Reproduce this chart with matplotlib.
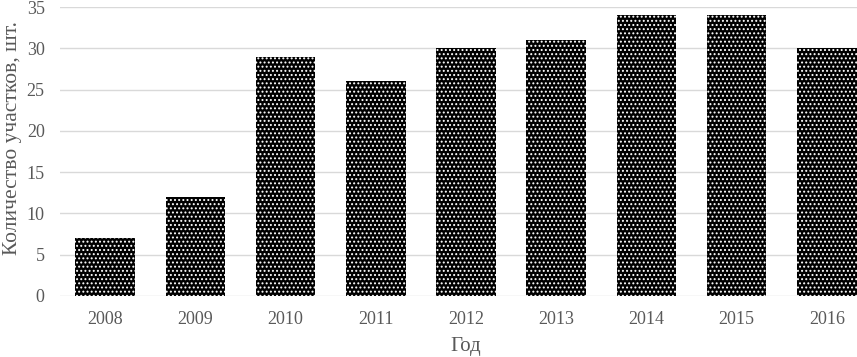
import matplotlib.pyplot as plt

years = ["2008", "2009", "2010", "2011", "2012", "2013", "2014", "2015", "2016"]
counts = [7, 12, 29, 26, 30, 31, 34, 34, 30]

plt.rcParams["font.family"] = ["Liberation Serif", "DejaVu Serif"]
plt.rcParams["hatch.linewidth"] = 0.9

fig = plt.figure(figsize=(8.57, 3.57), dpi=100)
W, H = 857, 357
ax = fig.add_axes([60 / W, (H - 296) / H, (872 - 60) / W, (296 - 7) / H])

x = range(len(years))
ax.bar(x, counts, width=0.66, color="black", edgecolor="white",
       hatch="....", linewidth=0, zorder=3)

ax.set_xlim(-0.5, len(years) - 0.5)
ax.set_ylim(0, 35)
ax.set_yticks(range(0, 36, 5))
ax.set_xticks(list(x))
ax.set_xticklabels(years)
ax.grid(axis="y", color="#d9d9d9", linewidth=1, zorder=0)
for s in ax.spines.values():
    s.set_visible(False)
ax.tick_params(length=0, labelsize=13, colors="#595959")
ax.tick_params(axis="y", pad=11)
ax.tick_params(axis="x", pad=11)

ax.set_xlabel("Год", fontsize=15, color="#595959", labelpad=6)
ax.set_ylabel("Количество участков, шт.", fontsize=15.5, color="#595959")
ax.yaxis.set_label_coords(-0.047, 0.547)

fig.savefig("out.png", dpi=100)
